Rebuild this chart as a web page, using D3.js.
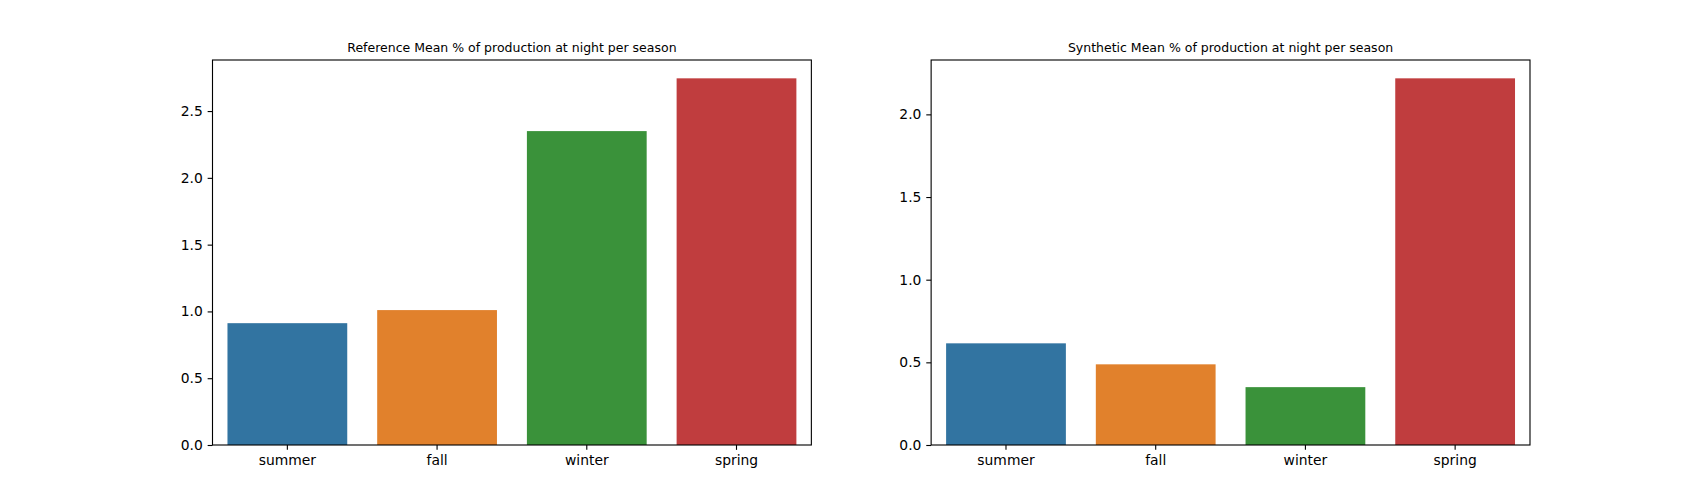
<!DOCTYPE html>
<meta charset="utf-8">
<script src="https://d3js.org/d3.v7.min.js"></script>
<style>
  body { margin: 0; background: #fff; }
  text { font-family: "DejaVu Sans", sans-serif; fill: #000; }
</style>
<svg id="chart" width="1700" height="500"></svg>
<script>
  // data
  var seasons = ["summer", "fall", "winter", "spring"];
  var colors = ["#3274a1", "#e1812c", "#3a923a", "#c03d3e"];
  var refValues = [0.912, 1.01, 2.35, 2.745];
  var synValues = [0.615, 0.488, 0.35, 2.218];
  var refTicks = [0, 0.5, 1.0, 1.5, 2.0, 2.5];
  var synTicks = [0, 0.5, 1.0, 1.5, 2.0];
  var titles = ["Reference Mean % of production at night per season",
                "Synthetic Mean % of production at night per season"];

  var svg = d3.select("#chart");

  // matplotlib default subplot layout for 1700x500
  var axTop = 60, axBottom = 445;
  var panelW = 598.86;
  var lefts = [212.5, 212.5 + panelW * 1.2];

  function panel(x0, values, ticks, title) {
    var g = svg.append("g");

    var x = d3.scaleBand()
        .domain(seasons)
        .range([x0, x0 + panelW])
        .paddingInner(0.2)
        .paddingOuter(0.1);

    var y = d3.scaleLinear()
        .domain([0, d3.max(values) * 1.05])
        .range([axBottom, axTop]);

    g.selectAll("rect")
      .data(values)
      .enter().append("rect")
        .attr("x", function(d, i) { return x(seasons[i]); })
        .attr("y", function(d) { return y(d); })
        .attr("width", x.bandwidth())
        .attr("height", function(d) { return y(0) - y(d); })
        .attr("fill", function(d, i) { return colors[i]; });

    // y axis
    var yAxis = g.append("g")
        .attr("transform", "translate(" + x0 + ",0)")
        .call(d3.axisLeft(y).tickValues(ticks).tickFormat(d3.format(".1f"))
              .tickSizeInner(4.86).tickSizeOuter(0).tickPadding(4.86));

    // x axis
    var xAxis = g.append("g")
        .attr("transform", "translate(0," + axBottom + ")")
        .call(d3.axisBottom(x).tickSizeInner(4.86).tickSizeOuter(0).tickPadding(4.86));

    [yAxis, xAxis].forEach(function(a) {
      a.select(".domain").remove();
      a.selectAll(".tick line").attr("stroke", "#000").attr("stroke-width", 1.11);
      a.selectAll(".tick text").style("font-size", "13.89px").attr("fill", "#000");
    });

    // frame
    g.append("rect")
      .attr("x", x0).attr("y", axTop)
      .attr("width", panelW).attr("height", axBottom - axTop)
      .attr("fill", "none").attr("stroke", "#000").attr("stroke-width", 1.11);

    g.append("text")
      .attr("x", x0 + panelW / 2)
      .attr("y", axTop - 8.3)
      .attr("text-anchor", "middle")
      .style("font-size", "12.5px")
      .text(title);
  }

  panel(lefts[0], refValues, refTicks, titles[0]);
  panel(lefts[1], synValues, synTicks, titles[1]);
</script>
